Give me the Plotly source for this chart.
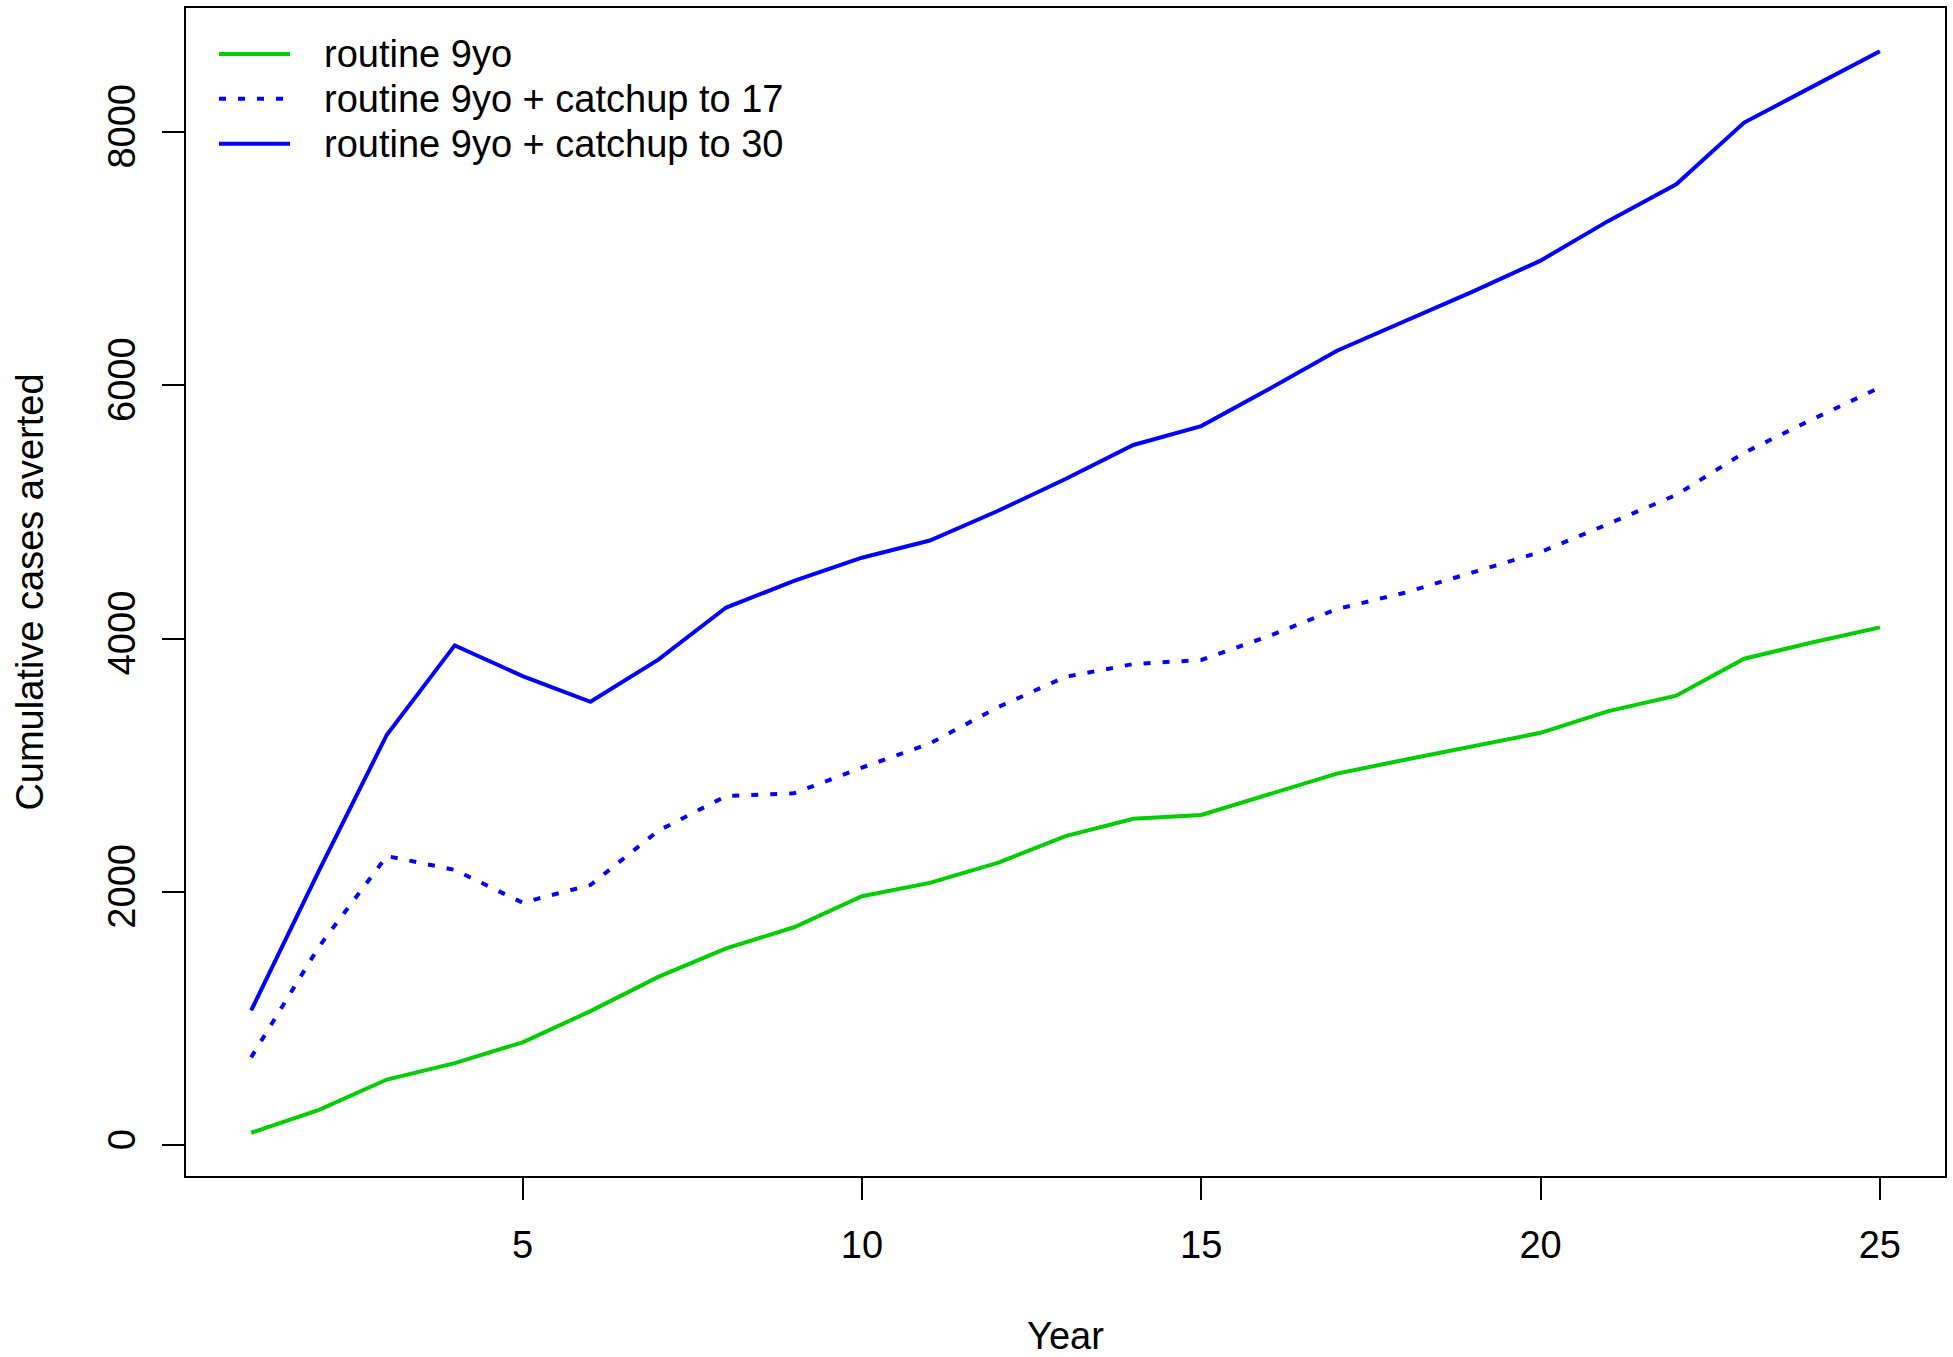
import plotly.graph_objects as go

# Cumulative cases averted by vaccination strategy, years 1-25
years = list(range(1, 26))
routine_9yo = [100, 280, 520, 650, 814, 1060, 1330, 1555, 1722, 1967, 2072, 2230,
               2441, 2578, 2608, 2774, 2935, 3044, 3150, 3257, 3428, 3550, 3842,
               3970, 4089]
catchup_17 = [695, 1570, 2284, 2175, 1916, 2056, 2484, 2758, 2780, 2982, 3172, 3458,
              3699, 3800, 3832, 4021, 4234, 4363, 4523, 4684, 4906, 5135, 5468,
              5730, 5983]
catchup_30 = [1065, 2170, 3242, 3947, 3705, 3502, 3835, 4246, 4456, 4639, 4775, 5008,
              5260, 5529, 5678, 5971, 6273, 6505, 6740, 6984, 7298, 7587, 8074,
              8356, 8637]

series_names = ["routine 9yo", "routine 9yo + catchup to 17", "routine 9yo + catchup to 30"]
x_ticks = [5, 10, 15, 20, 25]
y_ticks = [0, 2000, 4000, 6000, 8000]

GREEN = "#00CD00"
BLUE = "#0000FF"
DOTTED = "7px,12px"
FONT = "Liberation Sans, Arial, Helvetica, sans-serif"

W, H = 1953, 1357
M = dict(l=186, r=8, t=6, b=181)
PLOT_W = W - M["l"] - M["r"]
PLOT_H = H - M["t"] - M["b"]

series = [
    (series_names[0], routine_9yo, dict(color=GREEN, width=4)),
    (series_names[1], catchup_17, dict(color=BLUE, width=4, dash=DOTTED)),
    (series_names[2], catchup_30, dict(color=BLUE, width=4)),
]

fig = go.Figure()
for name, values, line in series:
    fig.add_trace(go.Scatter(x=years, y=values, mode="lines", name=name,
                             line=line, showlegend=False))

# R-style padding of 4% around the data range
all_y = routine_9yo + catchup_17 + catchup_30
ymin, ymax = min(all_y), max(all_y)
ypad = 0.04 * (ymax - ymin)
xpad = 0.04 * (max(years) - min(years))

axis_common = dict(
    showgrid=False, zeroline=False, showline=True, linecolor="black", linewidth=2,
    mirror=True, ticks="outside", ticklen=22, tickwidth=2, tickcolor="black",
    tickfont=dict(family=FONT, size=38, color="black"),
)


def px_x(px):
    return (px - M["l"]) / PLOT_W


def px_y(py):
    return (H - M["b"] - py) / PLOT_H


# Base-graphics style legend in the top-left corner: line sample + label
shapes, annotations = [], []
row_y = [52, 97, 142]
for (name, _, line), ry in zip(series, row_y):
    shapes.append(dict(type="line", xref="paper", yref="paper",
                       x0=px_x(219), x1=px_x(290), y0=px_y(ry), y1=px_y(ry),
                       line=dict(color=line["color"], width=line["width"],
                                 dash=line.get("dash", "solid"))))
    annotations.append(dict(xref="paper", yref="paper", x=px_x(322), y=px_y(ry),
                            xanchor="left", yanchor="middle", showarrow=False,
                            text=name, font=dict(family=FONT, size=38, color="black")))

fig.update_layout(
    width=W, height=H, autosize=False,
    margin=M,
    paper_bgcolor="white", plot_bgcolor="white",
    font=dict(family=FONT, size=38, color="black"),
    xaxis=dict(range=[min(years) - xpad, max(years) + xpad], tickvals=x_ticks,
               ticklabelstandoff=12,
               title=dict(text="Year", font=dict(family=FONT, size=38), standoff=58),
               **axis_common),
    yaxis=dict(range=[ymin - ypad, ymax + ypad], tickvals=y_ticks, tickangle=-90,
               ticklabelstandoff=12,
               title=dict(text="Cumulative cases averted", font=dict(family=FONT, size=38),
                          standoff=45),
               **axis_common),
    shapes=shapes,
    annotations=annotations,
    showlegend=False,
)

fig.write_html("out.html")
